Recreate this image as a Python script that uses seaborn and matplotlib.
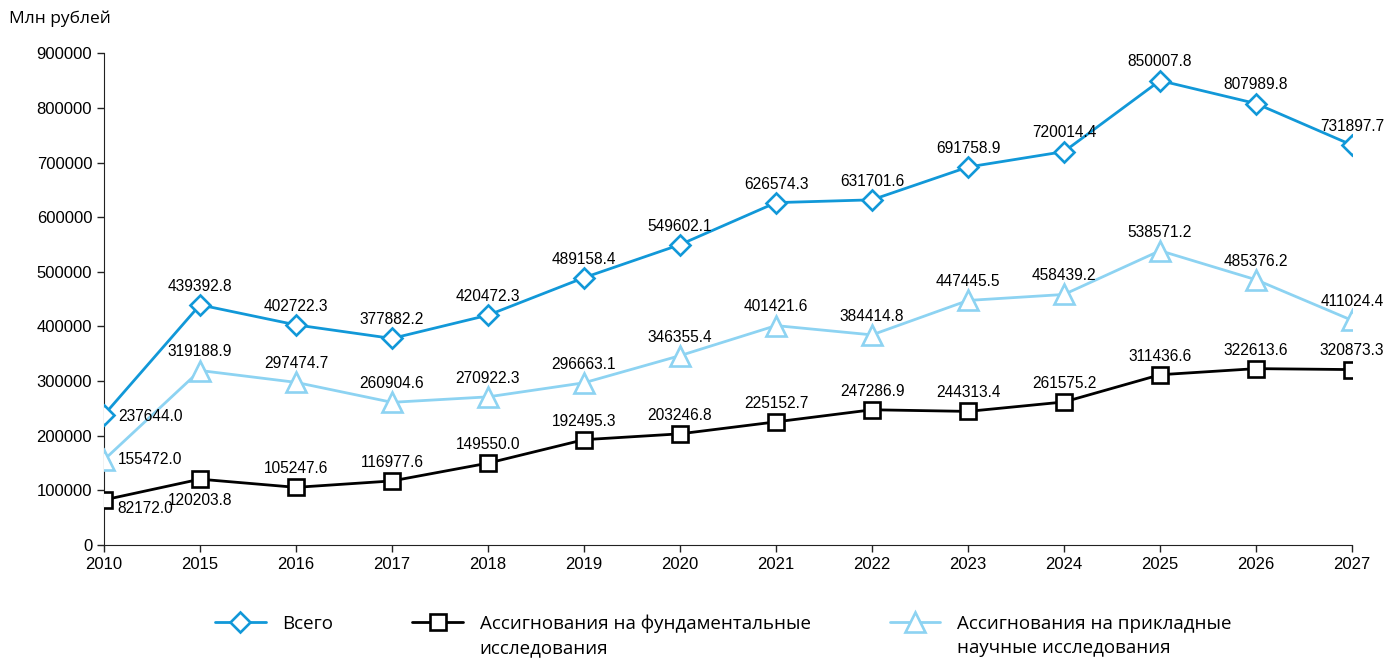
import matplotlib
matplotlib.use("Agg")
import matplotlib.pyplot as plt
import pandas as pd
import seaborn as sns

# Data
years = ["2010", "2015", "2016", "2017", "2018", "2019", "2020",
         "2021", "2022", "2023", "2024", "2025", "2026", "2027"]
total = [237644.0, 439392.8, 402722.3, 377882.2, 420472.3, 489158.4, 549602.1,
         626574.3, 631701.6, 691758.9, 720014.4, 850007.8, 807989.8, 731897.7]
fundamental = [82172.0, 120203.8, 105247.6, 116977.6, 149550.0, 192495.3, 203246.8,
               225152.7, 247286.9, 244313.4, 261575.2, 311436.6, 322613.6, 320873.3]
applied = [155472.0, 319188.9, 297474.7, 260904.6, 270922.3, 296663.1, 346355.4,
           401421.6, 384414.8, 447445.5, 458439.2, 538571.2, 485376.2, 411024.4]

names = ["Всего",
         "Ассигнования на фундаментальные",
         "Ассигнования на прикладные"]
second_lines = ["", "исследования", "научные исследования"]

df = pd.concat([
    pd.DataFrame({"year": years, "value": total, "series": names[0]}),
    pd.DataFrame({"year": years, "value": fundamental, "series": names[1]}),
    pd.DataFrame({"year": years, "value": applied, "series": names[2]}),
])

sns.set_style("ticks")
num_font = ["Liberation Sans", "DejaVu Sans"]
txt_font = ["Open Sans", "DejaVu Sans"]
plt.rcParams["font.family"] = num_font
plt.rcParams["text.color"] = "black"
plt.rcParams["xtick.color"] = "black"
plt.rcParams["ytick.color"] = "black"

colors = {names[0]: "#1198d8", names[1]: "#000000", names[2]: "#8dd3f2"}
markers = {names[0]: "D", names[1]: "s", names[2]: "^"}
sizes = {names[0]: 10, names[1]: 12, names[2]: 15}

fig = plt.figure(figsize=(13.86, 6.58), dpi=100)
ax = fig.add_axes([0.075, 0.172, 0.9005, 0.747])

for name in names:
    sub = df[df["series"] == name]
    sns.lineplot(data=sub, x="year", y="value", ax=ax, color=colors[name],
                 marker=markers[name], markersize=sizes[name],
                 markerfacecolor="white", markeredgecolor=colors[name],
                 markeredgewidth=1.9, linewidth=2.0, label=name,
                 sort=False, zorder=3)

# value labels
fs = 11.2
for i, y in enumerate(years):
    for name, vals in zip(names, [total, fundamental, applied]):
        v = vals[i]
        txt = f"{v:.1f}"
        if i == 0:
            dy = {names[0]: -1, names[1]: -6.5, names[2]: 0}[name]
            ax.annotate(txt, (i, v), xytext=(10, dy), textcoords="offset points",
                        ha="left", va="center", fontsize=fs)
        elif i == 1 and name == names[1]:
            ax.annotate(txt, (i, v), xytext=(0, -10), textcoords="offset points",
                        ha="center", va="top", fontsize=fs)
        else:
            ax.annotate(txt, (i, v), xytext=(0, 8), textcoords="offset points",
                        ha="center", va="bottom", fontsize=fs)

ax.set_xlim(0, len(years) - 1)
ax.set_ylim(0, 900000)
ax.set_yticks(range(0, 900001, 100000))
ax.set_xlabel("")
ax.set_ylabel("")
ax.tick_params(axis="both", labelsize=12, length=5, width=1, color="#222222")
ax.spines["top"].set_visible(False)
ax.spines["right"].set_visible(False)
ax.spines["left"].set_color("#222222")
ax.spines["bottom"].set_color("#222222")

fig.text(0.0065, 0.971, "Млн рублей", fontsize=12.5, family=txt_font, va="center")

ax.get_legend().remove()
handles, labels = ax.get_legend_handles_labels()
leg = fig.legend(handles, labels, loc="center left", bbox_to_anchor=(0.143, 0.052),
                 ncol=3, frameon=False, handlelength=2.7, handletextpad=0.9,
                 columnspacing=4.2, prop={"family": txt_font, "size": 13.5})

# second lines of the legend labels, placed under the first lines
fig.canvas.draw()
renderer = fig.canvas.get_renderer()
for t, extra in zip(leg.get_texts(), second_lines):
    if not extra:
        continue
    bb = t.get_window_extent(renderer)
    fig.text(bb.x0 / fig.bbox.width, (bb.y0 - 24 + (bb.y1 - bb.y0) / 2) / fig.bbox.height,
             extra, family=txt_font, fontsize=13.5, va="center", ha="left")

fig.savefig("out.png", dpi=100)
